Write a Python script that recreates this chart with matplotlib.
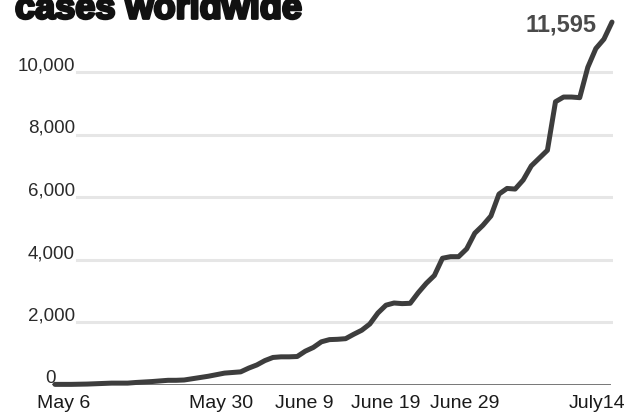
import numpy as np
import pandas as pd
import matplotlib
matplotlib.use("Agg")
import matplotlib.pyplot as plt
import matplotlib.dates as mdates
import matplotlib.patheffects as pe

# ---- data ----
dates = pd.date_range("2022-05-06", "2022-07-14", freq="D")
cases = [20, 20, 20, 25, 30, 40, 50, 60, 60, 60,
         80, 95, 110, 130, 150, 150, 160, 200, 240, 280,
         330, 380, 400, 420, 540, 640, 780, 880, 900, 900,
         910, 1080, 1200, 1380, 1450, 1460, 1480, 1620, 1750, 1950,
         2300, 2550, 2620, 2600, 2610, 2950, 3250, 3500, 4050, 4100,
         4100, 4350, 4850, 5100, 5400, 6100, 6280, 6260, 6550, 7000,
         7250, 7500, 9050, 9200, 9200, 9180, 10150, 10750, 11050, 11595]
tick_dates = ["2022-05-06", "2022-05-30", "2022-06-09", "2022-06-19", "2022-06-29", "2022-07-14"]
tick_labels = ["May 6", "May 30", "June 9", "June 19", "June 29", "July14"]
y_ticks = [2000, 4000, 6000, 8000, 10000]
y_tick_labels = ["2,000", "4,000", "6,000", "8,000", "10,000"]
title = "cases worldwide"
end_label = "11,595"

# ---- layout ----
W, H = 631, 415
fig = plt.figure(figsize=(W / 100, H / 100), dpi=100)
ax_left, ax_right, ax_bottom, ax_top = 52, 613, 385, 0  # pixels
ax = fig.add_axes([ax_left / W, (H - ax_bottom) / H, (ax_right - ax_left) / W, (ax_bottom - ax_top) / H])

x = mdates.date2num(dates)
px_per_day = (612 - 55) / 69.0
x0 = x[0] - (55 - ax_left) / px_per_day
x1 = x[0] + (ax_right - 55) / px_per_day
ax.set_xlim(x0, x1)
px_per_unit = 31.3 / 1000
ax.set_ylim(0, (ax_bottom - ax_top) / px_per_unit)

for s in ax.spines.values():
    s.set_visible(False)
ax.set_xticks([])
ax.set_yticks([])

# gridlines
grid_start = (77 - ax_left) / (ax_right - ax_left)
for v in y_ticks:
    ax.axhline(v, xmin=grid_start, xmax=1.0, color="#e6e6e6", lw=2.2, zorder=1)
ax.axhline(0, xmin=0, xmax=(610 - ax_left) / (ax_right - ax_left), color="#777777", lw=1.4, zorder=2)

ax.plot(x, cases, color="#3d3d3d", lw=3.6, solid_joinstyle="round", solid_capstyle="round",
        zorder=3, clip_on=False)

font = "Liberation Sans"
# y tick labels (right aligned, sitting just above gridlines)
ylab_x = 75
for v, lab in zip(y_ticks, y_tick_labels):
    ax.annotate(lab, xy=(ylab_x / W, v), xycoords=("figure fraction", "data"),
                xytext=(0, 1.2), textcoords="offset points",
                ha="right", va="baseline", fontsize=13.5, color="#2a2a2a", family=font)
ax.annotate("0", xy=(56 / W, 0), xycoords=("figure fraction", "data"),
            xytext=(0, 1.8), textcoords="offset points",
            ha="right", va="baseline", fontsize=13.5, color="#2a2a2a", family=font)

# x tick labels
label_dx = [8.5, -28, -25, -25, -26, -15]  # pixel offsets of label centers from date position
for d, lab, dx in zip(tick_dates, tick_labels, label_dx):
    ax.annotate(lab, xy=(mdates.date2num(pd.Timestamp(d)), 0), xycoords="data",
                xytext=(dx * 0.72, -7), textcoords="offset points",
                ha="center", va="top", fontsize=14, color="#1a1a1a", family=font,
                annotation_clip=False)

# end label
ax.annotate(end_label, xy=(x[-1], cases[-1]), xycoords="data",
            xytext=(-11, 6), textcoords="offset points",
            ha="right", va="top", fontsize=17, fontweight="bold", color="#4a4a4a", family=font,
            annotation_clip=False)

# title (cut at top)
fig.text(15 / W, 1 - 18.5 / H, title, ha="left", va="baseline", fontsize=26,
         fontweight="bold", color="#111111", family=font,
         path_effects=[pe.withStroke(linewidth=2.0, foreground="#111111")])

fig.savefig("out.png", dpi=100, facecolor="white")
